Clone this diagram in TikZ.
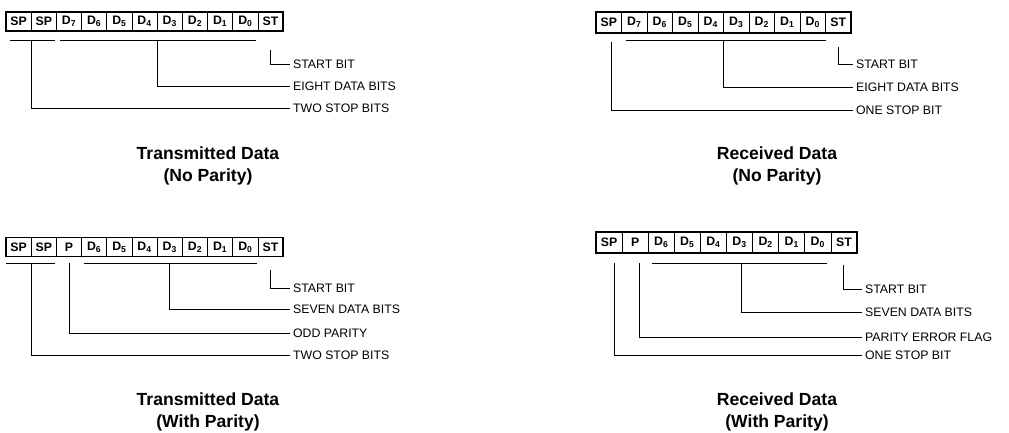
\documentclass[tikz,border=0pt]{standalone}
\usepackage{fontspec}
\setmainfont{Liberation Sans}
\usetikzlibrary{positioning}

\tikzset{
	cell/.style={draw, line width=0.6pt, rectangle, inner sep=0pt, outer sep=0pt, minimum height=0.57cm, font=\bfseries\fontsize{10.5}{11}\selectfont},
	frame/.style={line width=1.6pt},
	bracket/.style={line width=0.8pt},
	lbl/.style={anchor=west, inner sep=2.5pt, font=\fontsize{10.5}{12}\selectfont},
	title/.style={align=center, font=\bfseries\fontsize{15}{18.8}\selectfont},
}

\begin{document}
\begin{tikzpicture}[x=0.03cm, y=-0.03cm]
	\useasboundingbox (0,0) rectangle (1009,433);

	\foreach \bit [count=\i] in {SP,SP,D\textsubscript{7},D\textsubscript{6},D\textsubscript{5},D\textsubscript{4},D\textsubscript{3},D\textsubscript{2},D\textsubscript{1},D\textsubscript{0},ST}
		\node[cell, minimum width=0.756cm] (tn\i) at ({6+25.2*(\i-0.5)},21.5) {\bit};
	\draw[frame] (tn1.north west) rectangle (tn11.south east);
	\node[lbl] (tnStart) at (290,64) {START BIT};
	\node[lbl] (tnData) at (290,86) {EIGHT DATA BITS};
	\node[lbl] (tnStop) at (290,108) {TWO STOP BITS};
	\draw[bracket] ([shift={(4,9)}]tn1.south west) -- ([shift={(-1,9)}]tn2.south east);
	\draw[bracket] ([shift={(4,9)}]tn3.south west) -- ([shift={(-2,9)}]tn10.south east);
	\draw[bracket] (tnStop.west) -| ([shift={(0,9)}]tn1.south east);
	\draw[bracket] (tnData.west) -| ([shift={(0,9)}]tn6.south east);
	\draw[bracket] (tnStart.west) -| ([shift={(0,19)}]tn11.south);
	\node[title] (tnTitle) at (208,166) {Transmitted Data\\(No Parity)};

	\foreach \bit [count=\i] in {SP,D\textsubscript{7},D\textsubscript{6},D\textsubscript{5},D\textsubscript{4},D\textsubscript{3},D\textsubscript{2},D\textsubscript{1},D\textsubscript{0},ST}
		\node[cell, minimum width=0.765cm, minimum height=0.63cm] (rn\i) at ({596+25.5*(\i-0.5)},22.5) {\bit};
	\draw[frame] (rn1.north west) rectangle (rn10.south east);
	\node[lbl] (rnStart) at (853,64) {START BIT};
	\node[lbl] (rnData) at (853,87) {EIGHT DATA BITS};
	\node[lbl] (rnStop) at (853,110) {ONE STOP BIT};
	\draw[bracket] ([shift={(4,7)}]rn2.south west) -- ([shift={(0,7)}]rn9.south east);
	\draw[bracket] (rnStop.west) -| ([shift={(3,9)}]rn1.south);
	\draw[bracket] (rnData.west) -| ([shift={(0,7)}]rn5.south east);
	\draw[bracket] (rnStart.west) -| ([shift={(0,14)}]rn10.south);
	\node[title] (rnTitle) at (777,166) {Received Data\\(No Parity)};

	\foreach \bit [count=\i] in {SP,SP,P,D\textsubscript{6},D\textsubscript{5},D\textsubscript{4},D\textsubscript{3},D\textsubscript{2},D\textsubscript{1},D\textsubscript{0},ST}
		\node[cell, minimum width=0.756cm] (tp\i) at ({6+25.2*(\i-0.5)},247) {\bit};
	\draw[frame] (tp1.north west) rectangle (tp11.south east);
	\node[lbl] (tpStart) at (290,288) {START BIT};
	\node[lbl] (tpData) at (290,309) {SEVEN DATA BITS};
	\node[lbl] (tpPar) at (290,333) {ODD PARITY};
	\node[lbl] (tpStop) at (290,355) {TWO STOP BITS};
	\draw[bracket] ([shift={(0,6.5)}]tp1.south west) -- ([shift={(-1,6.5)}]tp2.south east);
	\draw[bracket] ([shift={(2,6.5)}]tp4.south west) -- ([shift={(-1,6.5)}]tp10.south east);
	\draw[bracket] (tpStop.west) -| ([shift={(0,6.5)}]tp1.south east);
	\draw[bracket] (tpPar.west) -| ([shift={(0,6.5)}]tp3.south);
	\draw[bracket] (tpData.west) -| ([shift={(0,6.5)}]tp7.south);
	\draw[bracket] (tpStart.west) -| ([shift={(0,13.5)}]tp11.south);
	\node[title] (tpTitle) at (208,412) {Transmitted Data\\(With Parity)};

	\foreach \bit [count=\i] in {SP,P,D\textsubscript{6},D\textsubscript{5},D\textsubscript{4},D\textsubscript{3},D\textsubscript{2},D\textsubscript{1},D\textsubscript{0},ST}
		\node[cell, minimum width=0.783cm, minimum height=0.63cm] (rp\i) at ({596+26.1*(\i-0.5)},242.5) {\bit};
	\draw[frame] (rp1.north west) rectangle (rp10.south east);
	\node[lbl] (rpStart) at (862,289) {START BIT};
	\node[lbl] (rpData) at (862,312) {SEVEN DATA BITS};
	\node[lbl] (rpPar) at (862,337) {PARITY ERROR FLAG};
	\node[lbl] (rpStop) at (862,355) {ONE STOP BIT};
	\draw[bracket] ([shift={(4,10)}]rp3.south west) -- ([shift={(-4,10)}]rp9.south east);
	\draw[bracket] (rpStop.west) -| ([shift={(5,10)}]rp1.south);
	\draw[bracket] (rpPar.west) -| ([shift={(4,10)}]rp2.south);
	\draw[bracket] (rpData.west) -| ([shift={(2,10)}]rp6.south);
	\draw[bracket] (rpStart.west) -| ([shift={(0,12)}]rp10.south);
	\node[title] (rpTitle) at (777,412) {Received Data\\(With Parity)};
\end{tikzpicture}
\end{document}
